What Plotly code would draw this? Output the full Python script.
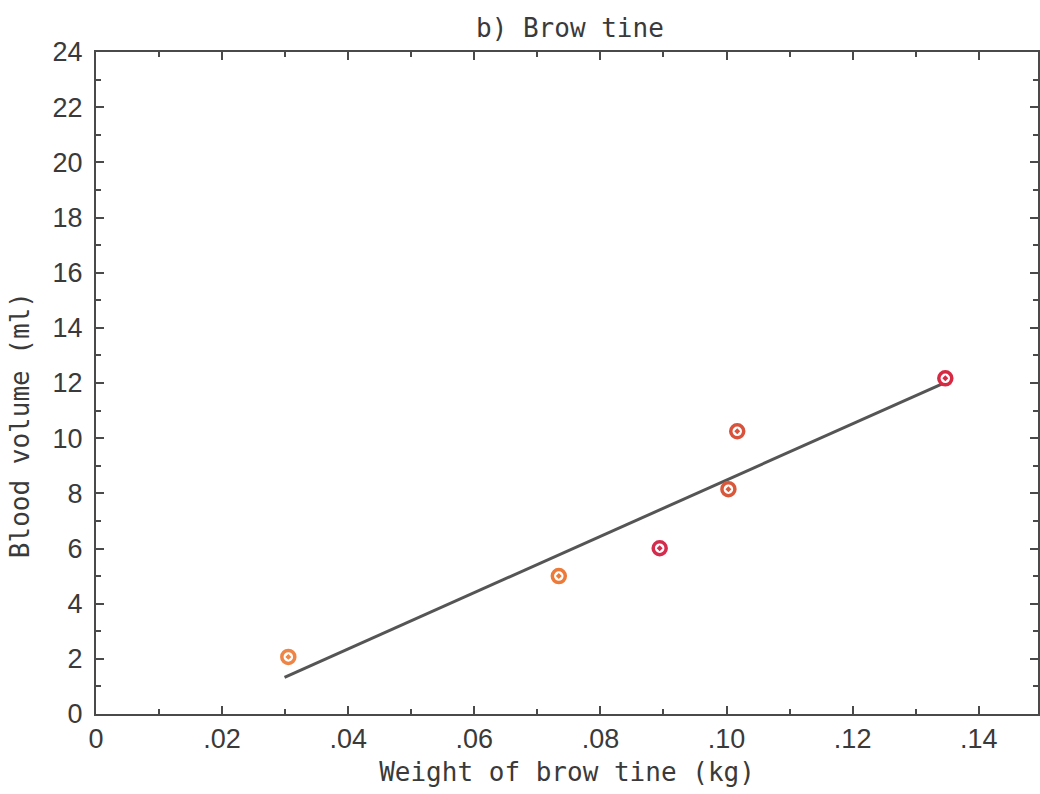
import plotly.graph_objects as go

weight_kg = [0.0305, 0.0734, 0.0894, 0.1003, 0.1017, 0.1347]
blood_ml = [2.07, 5.0, 6.01, 8.15, 10.25, 12.17]
point_colors = ["#ee8446", "#ec7a38", "#d42c4c", "#d8583c", "#d9523c", "#d62a42"]

fit_x = [0.0299, 0.1343]
fit_y = [1.33, 11.98]

x_tickvals = [0, 0.02, 0.04, 0.06, 0.08, 0.10, 0.12, 0.14]
x_ticktext = ["0", ".02", ".04", ".06", ".08", ".10", ".12", ".14"]
y_tickvals = list(range(0, 25, 2))

axis_col = "#4a4a4a"
mono = "DejaVu Sans Mono"
txt_col = "#3a3a3a"

fig = go.Figure()
fig.add_trace(go.Scatter(x=fit_x, y=fit_y, mode="lines",
                         line=dict(color="#555555", width=3), showlegend=False))
fig.add_trace(go.Scatter(x=weight_kg, y=blood_ml, mode="markers",
                         marker=dict(symbol="circle-dot", size=13, color="white",
                                     line=dict(color=point_colors, width=3.5)),
                         showlegend=False))

fig.update_layout(
    width=1040, height=794,
    margin=dict(l=96, r=0, t=52, b=80),
    paper_bgcolor="white", plot_bgcolor="white",
    title=dict(text="b) Brow tine", x=0.548, xanchor="center", y=0.965, yanchor="middle",
               font=dict(family=mono, size=26, color=txt_col)),
    annotations=[dict(text="Blood volume (ml)", xref="paper", yref="paper",
                      x=-0.0805, y=0.4366, xanchor="center", yanchor="middle",
                      textangle=-90, showarrow=False,
                      font=dict(family=mono, size=26, color=txt_col))],
)
fig.update_xaxes(
    range=[0, 0.1494], tickvals=x_tickvals, ticktext=x_ticktext,
    ticks="inside", ticklen=8, tickwidth=2, tickcolor=axis_col,
    minor=dict(ticks="inside", dtick=0.01, tick0=0, ticklen=5, tickwidth=2, tickcolor=axis_col),
    showline=True, linecolor=axis_col, linewidth=2, mirror="ticks",
    showgrid=False, zeroline=False,
    tickfont=dict(family="Liberation Sans", size=27, color=txt_col),
    title=dict(text="Weight of brow tine (kg)", standoff=9,
               font=dict(family=mono, size=26, color=txt_col)),
)
fig.update_yaxes(
    range=[0, 24], tickvals=y_tickvals,
    ticks="inside", ticklen=8, tickwidth=2, tickcolor=axis_col,
    minor=dict(ticks="inside", dtick=1, tick0=0, ticklen=5, tickwidth=2, tickcolor=axis_col),
    showline=True, linecolor=axis_col, linewidth=2, mirror="ticks",
    showgrid=False, zeroline=False,
    tickfont=dict(family="Liberation Sans", size=27, color=txt_col),
    ticklabelstandoff=6,
)

fig.write_html("out.html")
